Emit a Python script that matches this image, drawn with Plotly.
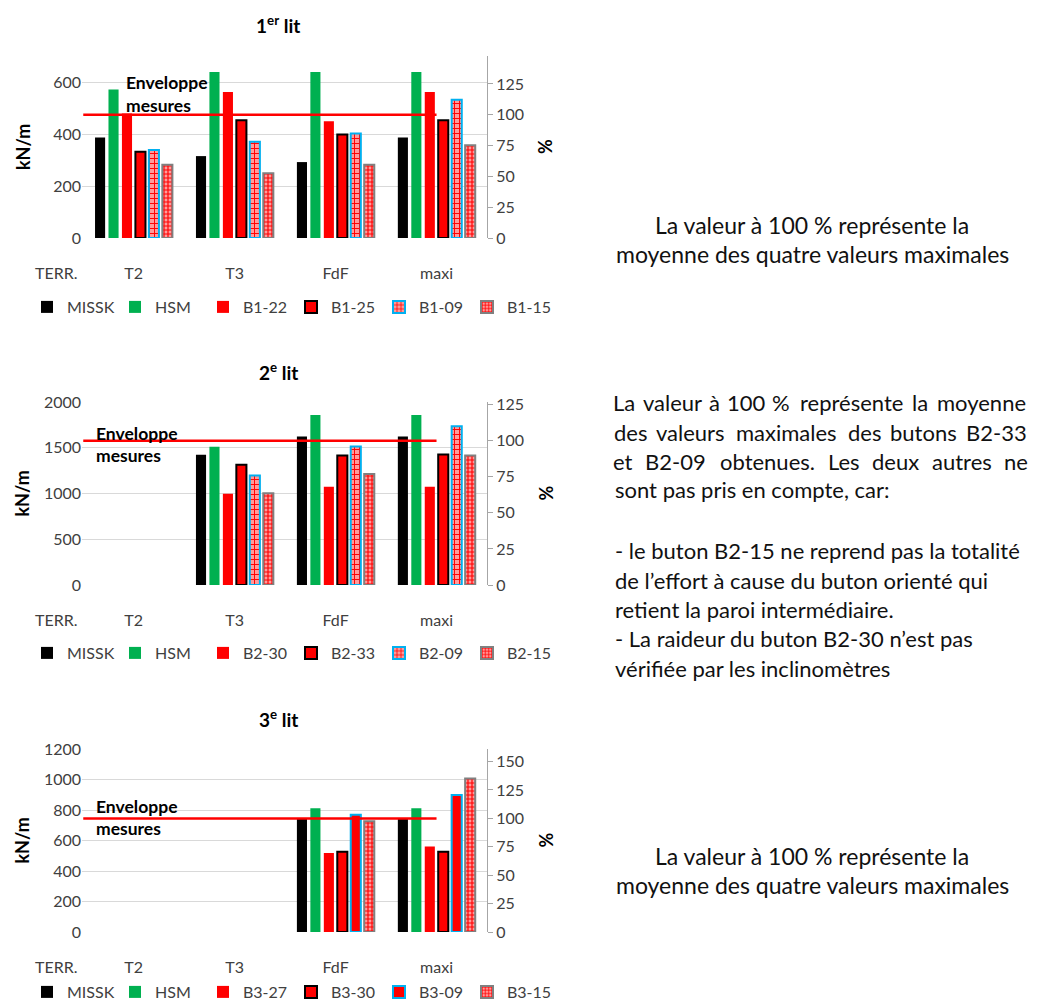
import plotly.graph_objects as go

# la page HTML a une marge de 8 px : la figure est réduite d'autant
OFF = 8
W, H = 1041 - 2 * OFF, 1008 - 2 * OFF

categories = ["T2", "T3", "FdF", "maxi"]

# 1er lit (kN/m)
lit1_names = ["MISSK", "HSM", "B1-22", "B1-25", "B1-09", "B1-15"]
lit1_missk = [387, 315, 292, 387]
lit1_hsm = [571, 638, 638, 638]
lit1_b122 = [479, 562, 449, 562]
lit1_b125 = [332, 453, 398, 453]
lit1_b109 = [338, 370, 402, 532]
lit1_b115 = [282, 249, 282, 357]
lit1_env = 474

# 2e lit (kN/m)
lit2_names = ["MISSK", "HSM", "B2-30", "B2-33", "B2-09", "B2-15"]
lit2_missk = [None, 1423, 1624, 1624]
lit2_hsm = [None, 1511, 1858, 1858]
lit2_b230 = [None, 996, 1073, 1073]
lit2_b233 = [None, 1314, 1416, 1427]
lit2_b209 = [None, 1197, 1515, 1734]
lit2_b215 = [None, 1004, 1212, 1416]
lit2_env = 1577

# 3e lit (kN/m)
lit3_names = ["MISSK", "HSM", "B3-27", "B3-30", "B3-09", "B3-15"]
lit3_missk = [None, None, 745, 745]
lit3_hsm = [None, None, 811, 811]
lit3_b327 = [None, None, 518, 560]
lit3_b330 = [None, None, 527, 527]
lit3_b309 = [None, None, 769, 898]
lit3_b315 = [None, None, 726, 1006]
lit3_env = 745

FONT = "Lato"
GREY_TXT = "#404040"
RED = "#FF0000"


def px(x):
    return (x - OFF) / W


def py(y):
    return 1 - (y - OFF) / H


styles1 = [
    dict(color="#000000", line=dict(width=0)),
    dict(color="#00B050", line=dict(width=0)),
    dict(color=RED, line=dict(width=0)),
    dict(color=RED, line=dict(color="#000000", width=2)),
    dict(color="#FF9B9B", line=dict(color="#00B0F0", width=2),
         pattern=dict(shape="+", fgcolor=RED, bgcolor="#FF9B9B", size=5, solidity=0.35, fillmode="replace")),
    dict(color="#FF9B9B", line=dict(color="#808080", width=2),
         pattern=dict(shape="+", fgcolor=RED, bgcolor="#FF9B9B", size=4, solidity=0.5, fillmode="replace")),
]
styles3 = list(styles1)
styles3[4] = dict(color=RED, line=dict(color="#00B0F0", width=2))

panels = [
    dict(names=lit1_names, data=[lit1_missk, lit1_hsm, lit1_b122, lit1_b125, lit1_b109, lit1_b115],
         env=lit1_env, ymax=700, dtick=200, title="1<sup>er</sup> lit", top=56, bottom=238,
         styles=styles1, env_txt=(124, 83), ytitle_x=23, leg_y=307),
    dict(names=lit2_names, data=[lit2_missk, lit2_hsm, lit2_b230, lit2_b233, lit2_b209, lit2_b215],
         env=lit2_env, ymax=2000, dtick=500, title="2<sup>e</sup> lit", top=402, bottom=585,
         styles=styles1, env_txt=(94, 433), ytitle_x=21, leg_y=653),
    dict(names=lit3_names, data=[lit3_missk, lit3_hsm, lit3_b327, lit3_b330, lit3_b309, lit3_b315],
         env=lit3_env, ymax=1200, dtick=200, title="3<sup>e</sup> lit", top=749, bottom=932,
         styles=styles3, env_txt=(94, 806), ytitle_x=21, leg_y=992),
]

fig = go.Figure()
annotations = []
shapes = []
layout = {}


def ann(text, x, y, size, color, anchor="center", angle=0):
    annotations.append(dict(text=text, xref="paper", yref="paper", x=px(x), y=py(y),
                            showarrow=False, textangle=angle, xanchor=anchor, yanchor="middle",
                            font=dict(size=size, color=color, family=FONT)))


for i, p in enumerate(panels):
    xa = "x" if i == 0 else f"x{i + 1}"
    ya = "y" if i == 0 else f"y{2 * i + 1}"
    yb = f"y{2 * i + 2}"
    lg = "legend" if i == 0 else f"legend{i + 1}"
    for name, vals, st in zip(p["names"], p["data"], p["styles"]):
        fig.add_trace(go.Bar(x=categories, y=vals, name=name, marker=st,
                             xaxis=xa, yaxis=ya, legend=lg))
    # trace vide pour que l'axe % soit tracé
    fig.add_trace(go.Scatter(x=categories, y=[None] * 4, xaxis=xa, yaxis=yb,
                             showlegend=False, hoverinfo="skip"))
    xkey = "xaxis" if i == 0 else f"xaxis{i + 1}"
    ykey = "yaxis" if i == 0 else f"yaxis{2 * i + 1}"
    ykey2 = f"yaxis{2 * i + 2}"
    layout[xkey] = dict(domain=[px(82), px(487)], anchor=ya, type="category",
                        categoryorder="array", categoryarray=categories,
                        showgrid=False, showline=False, ticks="", zeroline=False,
                        ticklabelstandoff=24, tickfont=dict(size=16, color=GREY_TXT))
    layout[ykey] = dict(domain=[py(p["bottom"]), py(p["top"])], anchor=xa,
                        range=[0, p["ymax"]], dtick=p["dtick"],
                        showgrid=True, gridcolor="#D9D9D9", gridwidth=1, zeroline=False,
                        showline=False, ticks="", tickfont=dict(size=16, color=GREY_TXT))
    layout[ykey2] = dict(overlaying=ya, side="right", anchor=xa,
                         range=[0, p["ymax"] / p["env"] * 100], dtick=25,
                         showgrid=False, zeroline=False, showline=True, linecolor="#A6A6A6",
                         ticks="outside", ticklen=5, tickcolor="#A6A6A6",
                         tickfont=dict(size=16, color=GREY_TXT))
    layout[lg] = dict(orientation="h", x=px(27), xanchor="left",
                      y=py(p["leg_y"]), yanchor="middle",
                      entrywidth=43, entrywidthmode="pixels", itemwidth=30,
                      font=dict(size=16, color=GREY_TXT, family=FONT), traceorder="normal",
                      bgcolor="rgba(0,0,0,0)")
    shapes.append(dict(type="line", xref=xa, yref=ya, x0=-0.5, x1=3,
                       y0=p["env"], y1=p["env"], line=dict(color=RED, width=2.5)))
    mid = (p["top"] + p["bottom"]) / 2
    ann("<b>kN/m</b>", p["ytitle_x"], mid, 18, "#000000", angle=-90)
    ann("<b>%</b>", 545, mid, 18, "#000000", angle=-90)
    ann(f"<b>{p['title']}</b>", 278, p["top"] - 31, 19, "#000000")
    ann("TERR.", 56, p["bottom"] + 34, 16, GREY_TXT)
    ex, ey = p["env_txt"]
    ann("<b>Enveloppe</b>", ex, ey, 17.5, "#000000", anchor="left")
    ann("<b>mesures</b>", ex, ey + 22, 17.5, "#000000", anchor="left")

TXT_COL = "#111111"
TXT_SIZE = 22

# largeurs approximatives des caractères Lato (em) pour la justification
CHAR_W = {" ": .193, "a": .49, "b": .556, "c": .46, "d": .556, "e": .52, "f": .32, "g": .5,
          "h": .55, "i": .235, "j": .235, "k": .5, "l": .235, "m": .83, "n": .55, "o": .56,
          "p": .556, "q": .556, "r": .36, "s": .42, "t": .35, "u": .55, "v": .51, "w": .77,
          "x": .49, "y": .51, "z": .45, "B": .62, "L": .47, "-": .37, ".": .2, "à": .49,
          "é": .52, "%": .8}


def text_w(s):
    return sum(CHAR_W.get(c, .58) for c in s) * TXT_SIZE * 1.07


def justified(line, y, left=613, right=1029):
    words = line.split(" ")
    widths = [text_w(w) for w in words]
    gap = (right - left - sum(widths)) / (len(words) - 1)
    x = left
    for w, wd in zip(words, widths):
        ann(w, x + wd / 2, y, TXT_SIZE, TXT_COL)
        x += wd + gap


# texte panneau 1 et 3
for yy in (225, 856):
    ann("La valeur à 100 % représente la", 812, yy, 23, TXT_COL)
    ann("moyenne des quatre valeurs maximales", 812, yy + 29, 23, TXT_COL)

# texte panneau 2
justified("La valeur à 100 % représente la moyenne", 402)
justified("des valeurs maximales des butons B2-33", 432)
justified("et B2-09 obtenues. Les deux autres ne", 461)
ann("sont pas pris en compte, car:", 613, 490, TXT_SIZE, TXT_COL, anchor="left")
ann("- le buton B2-15 ne reprend pas la totalité", 613, 550, TXT_SIZE, TXT_COL, anchor="left")
ann("de l’effort à cause du buton orienté qui", 613, 580, TXT_SIZE, TXT_COL, anchor="left")
ann("retient la paroi intermédiaire.", 613, 609, TXT_SIZE, TXT_COL, anchor="left")
ann("- La raideur du buton B2-30 n’est pas", 613, 638, TXT_SIZE, TXT_COL, anchor="left")
ann("vérifiée par les inclinomètres", 613, 668, TXT_SIZE, TXT_COL, anchor="left")

fig.update_layout(
    width=W, height=H, margin=dict(l=0, r=0, t=0, b=0, autoexpand=False),
    paper_bgcolor="white", plot_bgcolor="white",
    font=dict(family=FONT, size=16, color=GREY_TXT),
    barmode="group", bargap=0.2, bargroupgap=0.25,
    shapes=shapes, annotations=annotations, **layout,
)

fig.write_html("out.html")
